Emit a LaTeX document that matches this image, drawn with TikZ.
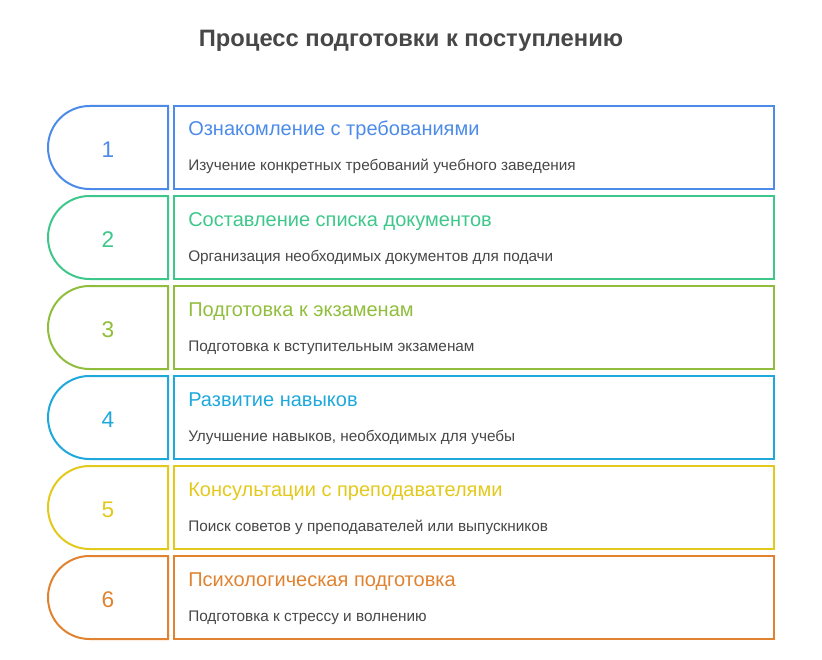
\documentclass[tikz,border=0pt]{standalone}
\usepackage{fontspec}
\setmainfont{Liberation Sans}
\usetikzlibrary{positioning}
\definecolor{stepA}{HTML}{4C8BE8}
\definecolor{stepB}{HTML}{3EC78A}
\definecolor{stepC}{HTML}{90BE3C}
\definecolor{stepD}{HTML}{1FA8DC}
\definecolor{stepE}{HTML}{E3C91B}
\definecolor{stepF}{HTML}{E0822F}
\definecolor{txt}{HTML}{474747}

\begin{document}
\begin{tikzpicture}[x=0.75pt,y=-0.75pt,
  tab/.style={line width=1.5pt},
  box/.style={draw,line width=1.5pt,minimum width=450pt,minimum height=62.25pt,inner sep=0pt},
  num/.style={font=\fontsize{17}{20}\selectfont,anchor=base,inner sep=0pt},
  head/.style={font=\fontsize{15}{18}\selectfont,anchor=base west,inner sep=0pt},
  desc/.style={font=\fontsize{11.5}{14}\selectfont,text=txt,anchor=base west,inner sep=0pt}]
\useasboundingbox (0,0) rectangle (822,660);
\node[font=\bfseries\fontsize{17.8}{21}\selectfont,text=txt,inner sep=0pt] (title) at (411,41) {Процесс подготовки к поступлению};

% step 1
\draw[tab,stepA] (168,106) -- (89.5,106) arc[start angle=90,end angle=270,radius=31.125pt] -- (168,189) -- cycle;
\node[num,text=stepA] (n1) at (108,157) {1};
\node[box,stepA] (b1) at (474,147.5) {};
\node[head,text=stepA] (h1) at (188,136) {Ознакомление с требованиями};
\node[desc] (d1) at (188,171) {Изучение конкретных требований учебного заведения};

% step 2
\draw[tab,stepB] (168,196) -- (89.5,196) arc[start angle=90,end angle=270,radius=31.125pt] -- (168,279) -- cycle;
\node[num,text=stepB] (n2) at (108,247) {2};
\node[box,stepB] (b2) at (474,237.5) {};
\node[head,text=stepB] (h2) at (188,226) {Составление списка документов};
\node[desc] (d2) at (188,261) {Организация необходимых документов для подачи};

% step 3
\draw[tab,stepC] (168,286) -- (89.5,286) arc[start angle=90,end angle=270,radius=31.125pt] -- (168,369) -- cycle;
\node[num,text=stepC] (n3) at (108,337) {3};
\node[box,stepC] (b3) at (474,327.5) {};
\node[head,text=stepC] (h3) at (188,316) {Подготовка к экзаменам};
\node[desc] (d3) at (188,351) {Подготовка к вступительным экзаменам};

% step 4
\draw[tab,stepD] (168,376) -- (89.5,376) arc[start angle=90,end angle=270,radius=31.125pt] -- (168,459) -- cycle;
\node[num,text=stepD] (n4) at (108,427) {4};
\node[box,stepD] (b4) at (474,417.5) {};
\node[head,text=stepD] (h4) at (188,406) {Развитие навыков};
\node[desc] (d4) at (188,441) {Улучшение навыков, необходимых для учебы};

% step 5
\draw[tab,stepE] (168,466) -- (89.5,466) arc[start angle=90,end angle=270,radius=31.125pt] -- (168,549) -- cycle;
\node[num,text=stepE] (n5) at (108,517) {5};
\node[box,stepE] (b5) at (474,507.5) {};
\node[head,text=stepE] (h5) at (188,496) {Консультации с преподавателями};
\node[desc] (d5) at (188,531) {Поиск советов у преподавателей или выпускников};

% step 6
\draw[tab,stepF] (168,556) -- (89.5,556) arc[start angle=90,end angle=270,radius=31.125pt] -- (168,639) -- cycle;
\node[num,text=stepF] (n6) at (108,607) {6};
\node[box,stepF] (b6) at (474,597.5) {};
\node[head,text=stepF] (h6) at (188,586) {Психологическая подготовка};
\node[desc] (d6) at (188,621) {Подготовка к стрессу и волнению};
\end{tikzpicture}
\end{document}
